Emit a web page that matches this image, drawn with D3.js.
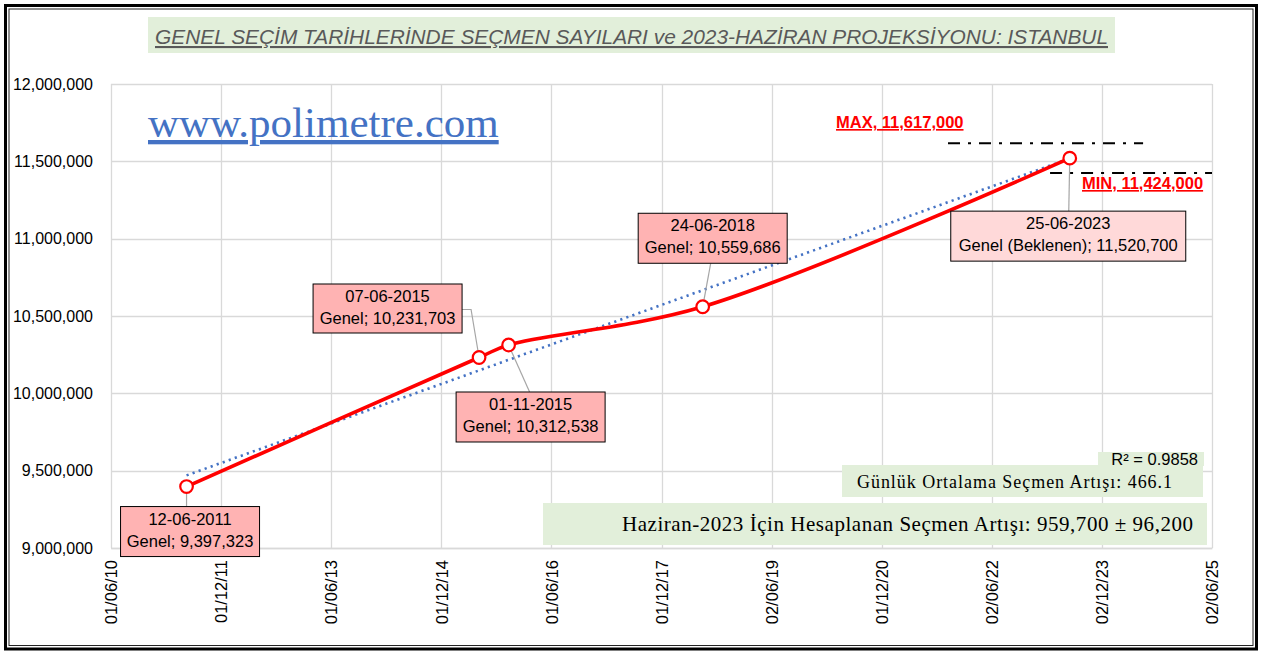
<!DOCTYPE html>
<html><head><meta charset="utf-8">
<script src="https://cdn.jsdelivr.net/npm/d3@7"></script>
<style>body{margin:0;background:#fff}svg{display:block}</style>
</head><body>
<svg id="c" width="1263" height="654"></svg>
<script>
// ---- data ----
const dates = ["2011-06-12","2015-06-07","2015-11-01","2018-06-24","2023-06-25"];
const voters = [9397323, 10231703, 10312538, 10559686, 11520700];
const kinds = ["Genel","Genel","Genel","Genel","Genel (Beklenen)"];
const actualCount = 4; // trend fitted on the actual elections
const yTicks = [9000000, 9500000, 10000000, 10500000, 11000000, 11500000, 12000000];
const xTickLabels = ["01/06/10","01/12/11","01/06/13","01/12/14","01/06/16","01/12/17","02/06/19","01/12/20","02/06/22","02/12/23","02/06/25"];
const maxValue = 11617000, minValue = 11424000;
const maxSpan = ["2021-10-27","2024-06-24"];
const minSpan = ["2023-03-19","2025-06-02"];
const titleText = "GENEL SEÇİM TARİHLERİNDE  SEÇMEN SAYILARI ve 2023-HAZİRAN PROJEKSİYONU: ISTANBUL";
const r2Text = "R² = 0.9858";
const dailyText = "Günlük Ortalama Seçmen Artışı: 466.1";
const projText = "Haziran-2023 İçin Hesaplanan Seçmen Artışı: 959,700 ± 96,200";

// ---- layout ----
const parse = d3.timeParse("%Y-%m-%d");
const parseTick = d3.timeParse("%d/%m/%y");
const fmtLabel = d3.timeFormat("%d-%m-%Y");
const fmtNum = d3.format(",");
const pts = dates.map((d,i)=>({date:parse(d), v:voters[i], kind:kinds[i]}));
const tickDates = xTickLabels.map(parseTick);

const svg = d3.select("#c");
const x = d3.scaleTime().domain([tickDates[0], tickDates[tickDates.length-1]]).range([111,1212]);
const y = d3.scaleLinear().domain([9000000,12000000]).range([548,84]);

// outer frame
svg.append("rect").attr("x",5.5).attr("y",5.5).attr("width",1251).attr("height",643.5)
  .attr("fill","none").attr("stroke","#000").attr("stroke-width",3);
svg.append("rect").attr("x",9).attr("y",9).attr("width",1244).attr("height",636.5)
  .attr("fill","none").attr("stroke","#222").attr("stroke-width",1);

// gridlines
const g = svg.append("g");
g.selectAll(".hg").data(yTicks).join("line")
  .attr("x1",111).attr("x2",1212).attr("y1",d=>Math.round(y(d))+0.5).attr("y2",d=>Math.round(y(d))+0.5)
  .attr("stroke","#d9d9d9").attr("stroke-width",1.3);
g.selectAll(".vg").data(tickDates).join("line")
  .attr("x1",d=>Math.round(x(d))+0.5).attr("x2",d=>Math.round(x(d))+0.5).attr("y1",84).attr("y2",548)
  .attr("stroke","#d9d9d9").attr("stroke-width",1.3);

// axes via d3
const yAxis = d3.axisLeft(y).tickValues(yTicks).tickFormat(fmtNum).tickSize(0).tickPadding(18);
const ya = svg.append("g").attr("transform","translate(111,0)").call(yAxis);
ya.select(".domain").remove();
ya.selectAll("text").attr("font-family","Liberation Sans, Arial, sans-serif").attr("font-size",16).attr("fill","#000");

const xAxis = d3.axisBottom(x).tickValues(tickDates).tickFormat((d,i)=>xTickLabels[i]).tickSize(0);
const xa = svg.append("g").attr("transform","translate(0,548)").call(xAxis);
xa.select(".domain").attr("stroke","#d9d9d9").attr("stroke-width",1.3);
xa.selectAll("text").attr("font-family","Liberation Sans, Arial, sans-serif").attr("font-size",16.5).attr("fill","#000")
  .attr("transform","rotate(-90)").attr("text-anchor","end").attr("dx",-12).attr("dy","0.35em").attr("y",0).attr("x",0);

// title
svg.append("rect").attr("x",148).attr("y",17).attr("width",967).attr("height",36).attr("fill","#e2efda");
svg.append("text").attr("x",155).attr("y",44).text(titleText)
  .attr("font-family","Liberation Sans, Arial, sans-serif").attr("font-style","italic").attr("font-size",21)
  .attr("fill","#595959").attr("text-decoration","underline")
  .attr("textLength",953).attr("lengthAdjust","spacingAndGlyphs");

// watermark
svg.append("text").attr("x",148).attr("y",137).text("www.polimetre.com")
  .attr("font-family","Liberation Serif, Times New Roman, serif").attr("font-size",43)
  .attr("fill","#4472c4").attr("text-decoration","underline");

// trend line (linear regression on actual elections)
const act = pts.slice(0,actualCount);
const t0 = act[0].date.getTime();
const xs = act.map(p=>(p.date.getTime()-t0)/864e5), ys = act.map(p=>p.v);
const mx = d3.mean(xs), my = d3.mean(ys);
const slope = d3.sum(xs.map((xi,i)=>(xi-mx)*(ys[i]-my)))/d3.sum(xs.map(xi=>(xi-mx)**2));
const icpt = my - slope*mx;
const tEnd = (pts[pts.length-1].date.getTime()-t0)/864e5;
const trend = [{date:act[0].date, v:icpt},{date:pts[pts.length-1].date, v:icpt+slope*tEnd}];
svg.append("path").datum(trend)
  .attr("d", d3.line().x(d=>x(d.date)).y(d=>y(d.v)))
  .attr("fill","none").attr("stroke","#4472c4").attr("stroke-width",2.6)
  .attr("stroke-dasharray","2.2 4.2").attr("stroke-linecap","butt");

// MAX / MIN lines
svg.append("line").attr("x1",x(parse(maxSpan[0]))).attr("x2",x(parse(maxSpan[1])))
  .attr("y1",y(maxValue)).attr("y2",y(maxValue))
  .attr("stroke","#000").attr("stroke-width",2).attr("stroke-dasharray","12 8 3 8");
svg.append("line").attr("x1",x(parse(minSpan[0]))).attr("x2",x(parse(minSpan[1])))
  .attr("y1",y(minValue)).attr("y2",y(minValue))
  .attr("stroke","#000").attr("stroke-width",2).attr("stroke-dasharray","12 8 3 8");
svg.append("text").attr("x",836).attr("y",128).text("MAX, "+fmtNum(maxValue))
  .attr("font-family","Liberation Sans, Arial, sans-serif").attr("font-weight","bold").attr("font-size",16.5)
  .attr("fill","#ff0000").attr("text-decoration","underline");
svg.append("text").attr("x",1082).attr("y",189).text("MIN, "+fmtNum(minValue))
  .attr("font-family","Liberation Sans, Arial, sans-serif").attr("font-weight","bold").attr("font-size",16.5)
  .attr("fill","#ff0000").attr("text-decoration","underline");

// main line
svg.append("path").datum(pts)
  .attr("d", d3.line().x(d=>x(d.date)).y(d=>y(d.v)).curve(d3.curveCatmullRom.alpha(0.5)))
  .attr("fill","none").attr("stroke","#ff0000").attr("stroke-width",3.6).attr("stroke-linejoin","round");

// label layout: box offset relative to point, size, leader route (relative to point)
const labelLayout = [
  {dx:-66, dy:20, w:139, h:50, fill:"#ffb3b3", leader:[[0,0],[0,20]]},
  {dx:-166, dy:-73.5, w:149, h:49, fill:"#ffb3b3", leader:[[0,0],[-8,-48],[-17,-48]]},
  {dx:-52.5, dy:47, w:149, h:50, fill:"#ffb3b3", leader:[[0,0],[21,47]]},
  {dx:-64.5, dy:-93.5, w:149, h:50, fill:"#ffb3b3", leader:[[0,0],[8,-43.5]]},
  {dx:-119, dy:53, w:235, h:50, fill:"#ffd9d9", leader:[[0,0],[-1,53]]}
];
const lab = svg.append("g");
pts.forEach((p,i)=>{
  const L = labelLayout[i], px = x(p.date), py = y(p.v);
  lab.append("path").attr("d", d3.line()(L.leader.map(q=>[px+q[0], py+q[1]])))
    .attr("fill","none").attr("stroke","#a6a6a6").attr("stroke-width",1.2);
});
pts.forEach((p,i)=>{
  const L = labelLayout[i], px = x(p.date), py = y(p.v);
  const bx = px+L.dx, by = py+L.dy;
  lab.append("rect").attr("x",bx).attr("y",by).attr("width",L.w).attr("height",L.h)
    .attr("fill",L.fill).attr("stroke","#000").attr("stroke-width",1);
  const t = lab.append("text").attr("text-anchor","middle")
    .attr("font-family","Liberation Sans, Arial, sans-serif").attr("font-size",16.5).attr("fill","#000");
  t.append("tspan").attr("x",bx+L.w/2).attr("y",by+18).text(fmtLabel(p.date));
  t.append("tspan").attr("x",bx+L.w/2).attr("y",by+40).text(p.kind+"; "+fmtNum(p.v));
});

// markers
svg.selectAll(".mk").data(pts).join("circle")
  .attr("cx",d=>x(d.date)).attr("cy",d=>y(d.v)).attr("r",6.3)
  .attr("fill","#fff").attr("stroke","#ff0000").attr("stroke-width",2.2);

// bottom-right info boxes
svg.append("rect").attr("x",1098).attr("y",452).attr("width",106).attr("height",14).attr("fill","#e2efda");
svg.append("rect").attr("x",842).attr("y",465).attr("width",361).attr("height",32).attr("fill","#e2efda");
svg.append("text").attr("x",1198).attr("y",465).attr("text-anchor","end").text(r2Text)
  .attr("font-family","Liberation Sans, Arial, sans-serif").attr("font-size",16.5).attr("fill","#000");
svg.append("text").attr("x",857).attr("y",488).text(dailyText)
  .attr("font-family","Liberation Serif, Times New Roman, serif").attr("font-size",18).attr("fill","#000")
  .attr("textLength",315).attr("lengthAdjust","spacing");
svg.append("rect").attr("x",543).attr("y",503).attr("width",664).attr("height",42).attr("fill","#e2efda");
svg.append("text").attr("x",622).attr("y",531).text(projText)
  .attr("font-family","Liberation Serif, Times New Roman, serif").attr("font-size",21).attr("fill","#000")
  .attr("textLength",571).attr("lengthAdjust","spacing");
</script>
</body></html>
